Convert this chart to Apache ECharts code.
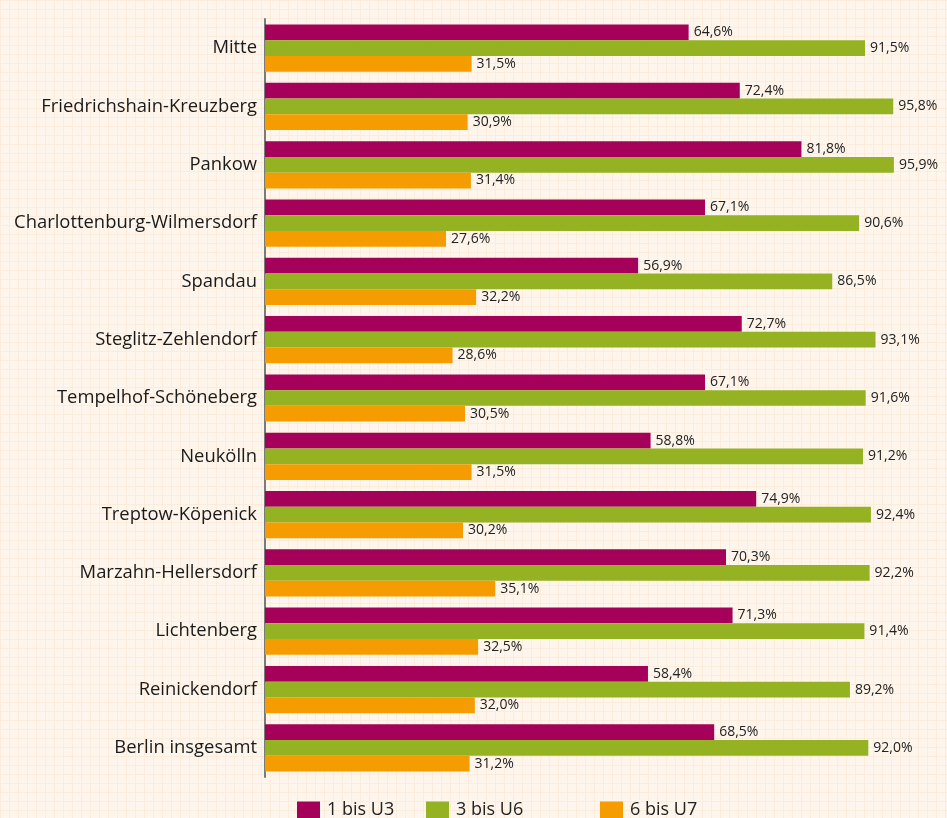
<!DOCTYPE html>
<html>
<head>
<meta charset="utf-8">
<script src="https://cdn.jsdelivr.net/npm/echarts@6/dist/echarts.min.js"></script>
<style>
  html, body { margin: 0; padding: 0; }
  body {
    width: 947px; height: 818px;
    background-color: #fef6ec;
    background-image:
      linear-gradient(to right, #fcecdb 1px, transparent 1px),
      linear-gradient(to bottom, #fcecdb 1px, transparent 1px);
    background-size: 9px 9px;
  }
  #chart { width: 947px; height: 818px; }
</style>
</head>
<body>
<div id="chart"></div>
<script>
var districts = [
  "Mitte", "Friedrichshain-Kreuzberg", "Pankow", "Charlottenburg-Wilmersdorf",
  "Spandau", "Steglitz-Zehlendorf", "Tempelhof-Schöneberg", "Neukölln",
  "Treptow-Köpenick", "Marzahn-Hellersdorf", "Lichtenberg", "Reinickendorf",
  "Berlin insgesamt"
];
var u3 = [64.6, 72.4, 81.8, 67.1, 56.9, 72.7, 67.1, 58.8, 74.9, 70.3, 71.3, 58.4, 68.5];
var u6 = [91.5, 95.8, 95.9, 90.6, 86.5, 93.1, 91.6, 91.2, 92.4, 92.2, 91.4, 89.2, 92.0];
var u7 = [31.5, 30.9, 31.4, 27.6, 32.2, 28.6, 30.5, 31.5, 30.2, 35.1, 32.5, 32.0, 31.2];
var seriesNames = ["1 bis U3", "3 bis U6", "6 bis U7"];
var colors = ["#a5005a", "#95b223", "#f59c00"];

var font = "'Open Sans', 'Noto Sans', sans-serif";
var chart = echarts.init(document.getElementById("chart"));

function pct(p) {
  return p.value.toFixed(1).replace(".", ",") + "%";
}

function makeSeries(name, data, color) {
  return {
    name: name,
    type: "bar",
    data: data,
    barGap: "0%",
    barCategoryGap: "19%",
    itemStyle: { color: color },
    label: {
      show: true,
      position: "right",
      distance: 5,
      formatter: pct,
      color: "#222",
      fontFamily: font,
      fontSize: 14
    }
  };
}

function legendAt(name, left) {
  return {
    data: [name],
    left: left,
    top: 796,
    itemWidth: 23,
    itemHeight: 17,
    icon: "rect",
    textStyle: { fontFamily: font, fontSize: 18, color: "#222", padding: [0, 0, 0, 2] }
  };
}

var option = {
  animation: false,
  color: colors,
  legend: [
    legendAt(seriesNames[0], 292),
    legendAt(seriesNames[1], 421),
    legendAt(seriesNames[2], 595)
  ],
  grid: { left: 265, right: 0, top: 19, bottom: 41, containLabel: false },
  xAxis: {
    type: "value",
    min: 0,
    max: 104,
    show: false
  },
  yAxis: {
    type: "category",
    data: districts,
    inverse: true,
    axisTick: { show: false },
    axisLine: { show: true, lineStyle: { color: "#7a7a7a", width: 2 } },
    axisLabel: {
      fontFamily: font,
      fontSize: 18.4,
      color: "#1a1a1a",
      margin: 8
    }
  },
  series: [
    makeSeries(seriesNames[0], u3, colors[0]),
    makeSeries(seriesNames[1], u6, colors[1]),
    makeSeries(seriesNames[2], u7, colors[2])
  ]
};
chart.setOption(option);
</script>
</body>
</html>
